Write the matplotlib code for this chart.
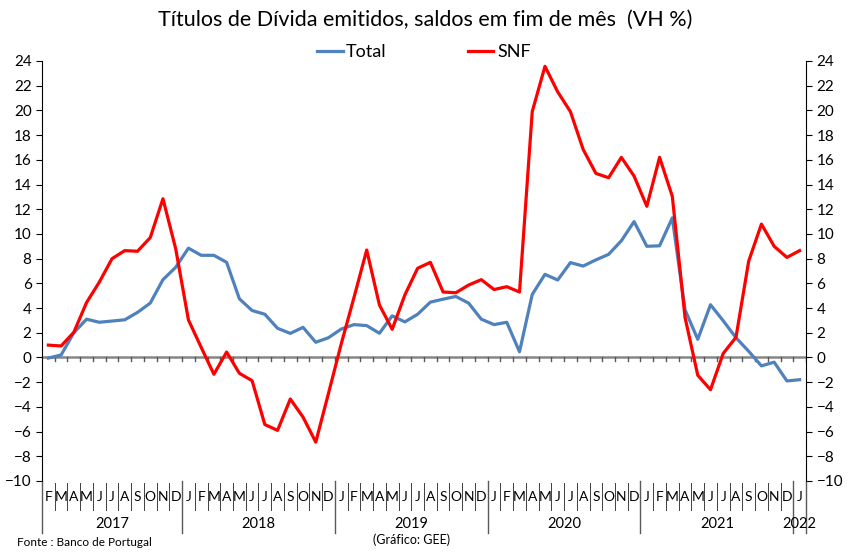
import matplotlib
matplotlib.use("Agg")
import matplotlib.pyplot as plt
import matplotlib.transforms as mtransforms
import numpy as np

# dados: variação homóloga (%), Fev 2017 a Jan 2022
total = [-0.05, 0.2, 2.0, 3.1, 2.85, 2.95, 3.05, 3.65, 4.4, 6.3, 7.3,
         8.85, 8.27, 8.27, 7.7, 4.75, 3.8, 3.5, 2.36, 1.95, 2.44, 1.23, 1.6,
         2.3, 2.66, 2.58, 1.96, 3.37, 2.88, 3.5, 4.48, 4.72, 4.94, 4.4, 3.1,
         2.66, 2.85, 0.46, 5.1, 6.73, 6.27, 7.68, 7.4, 7.9, 8.35, 9.45, 11.0,
         9.0, 9.04, 11.3, 3.86, 1.47, 4.27, 2.97, 1.6, 0.5, -0.68, -0.38, -1.9,
         -1.8]
snf = [1.0, 0.93, 2.04, 4.45, 6.1, 8.0, 8.65, 8.6, 9.7, 12.85, 8.8,
       3.04, 0.82, -1.36, 0.44, -1.28, -1.88, -5.43, -5.9, -3.36, -4.83, -6.85, -2.9,
       1.1, 4.85, 8.7, 4.25, 2.28, 5.07, 7.22, 7.7, 5.3, 5.24, 5.86, 6.3,
       5.5, 5.73, 5.3, 19.9, 23.57, 21.5, 19.9, 16.84, 14.9, 14.55, 16.2, 14.68,
       12.24, 16.2, 13.05, 3.24, -1.44, -2.61, 0.33, 1.63, 7.8, 10.8, 9.0, 8.1,
       8.65]
meses = ["J", "F", "M", "A", "M", "J", "J", "A", "S", "O", "N", "D"]
anos = ["2017", "2018", "2019", "2020", "2021", "2022"]
mes_inicial = 1  # Fevereiro

plt.rcParams['font.family'] = ['Lato', 'DejaVu Sans']

n = len(total)
x = np.arange(n) + 0.5
labels_mes = [meses[(mes_inicial + i) % 12] for i in range(n)]

fig = plt.figure(figsize=(8.5, 5.59), dpi=100)
ax = fig.add_axes([42 / 850, 1 - 481 / 559, 764 / 850, 420 / 559])

ax.axhline(0, color='#868686', lw=1.8, zorder=1)
tr = mtransforms.blended_transform_factory(ax.transData, ax.transAxes)
for k in range(1, n + 1):
    ax.plot([k, k], [0, -0.32], color='#595959', lw=1.0, zorder=1)

ax.plot(x, total, color='#4F81BD', lw=2.3, label='Total', zorder=3)
ax.plot(x, snf, color='#FF0000', lw=2.3, label='SNF', zorder=4)

ax.set_xlim(0, n)
ax.set_ylim(-10, 24)
ax.set_yticks(np.arange(-10, 25, 2))
ax.set_xticks([])
ax.tick_params(axis='y', which='both', direction='out', left=True, right=True,
               labelleft=True, labelright=True, labelsize=11, length=4, width=0.8)
for s in ['top', 'bottom']:
    ax.spines[s].set_visible(False)
for s in ['left', 'right']:
    ax.spines[s].set_linewidth(0.8)

# eixo de categorias (meses e anos)
for i in range(n):
    ax.text(x[i], -0.038, labels_mes[i], transform=tr, ha='center', va='center', fontsize=10)
for k in range(1, n):
    ax.plot([k, k], [-0.005, -0.068], transform=tr, color='#404040', lw=0.7, clip_on=False)

# limites dos anos
inicio = [0]
for i in range(1, n):
    if (mes_inicial + i) % 12 == 0:
        inicio.append(i)
fim = inicio[1:] + [n]
for k in inicio + [n]:
    ax.plot([k, k], [0, -0.124], transform=tr, color='#595959', lw=1.0, clip_on=False)
for a, b, ano in zip(inicio, fim, anos):
    ax.text((a + b) / 2, -0.102, ano, transform=tr, ha='center', va='center', fontsize=10.5)

fig.text(0.5, 1 - 20 / 559, 'Títulos de Dívida emitidos, saldos em fim de mês  (VH %)',
         ha='center', va='center', fontsize=15.5)
ax.legend(loc='center', bbox_to_anchor=(0.5, 1 + 9 / 420), ncol=2, frameon=False,
          fontsize=13, handlelength=1.4, handletextpad=0.2, columnspacing=4.5,
          borderpad=0)

fig.text(17 / 850, 1 - 543 / 559, 'Fonte : Banco de Portugal', fontsize=8.5, va='center')
fig.text(412 / 850, 1 - 540 / 559, '(Gráfico: GEE)', fontsize=9, va='center', ha='center')

fig.savefig('out.png', dpi=100)
